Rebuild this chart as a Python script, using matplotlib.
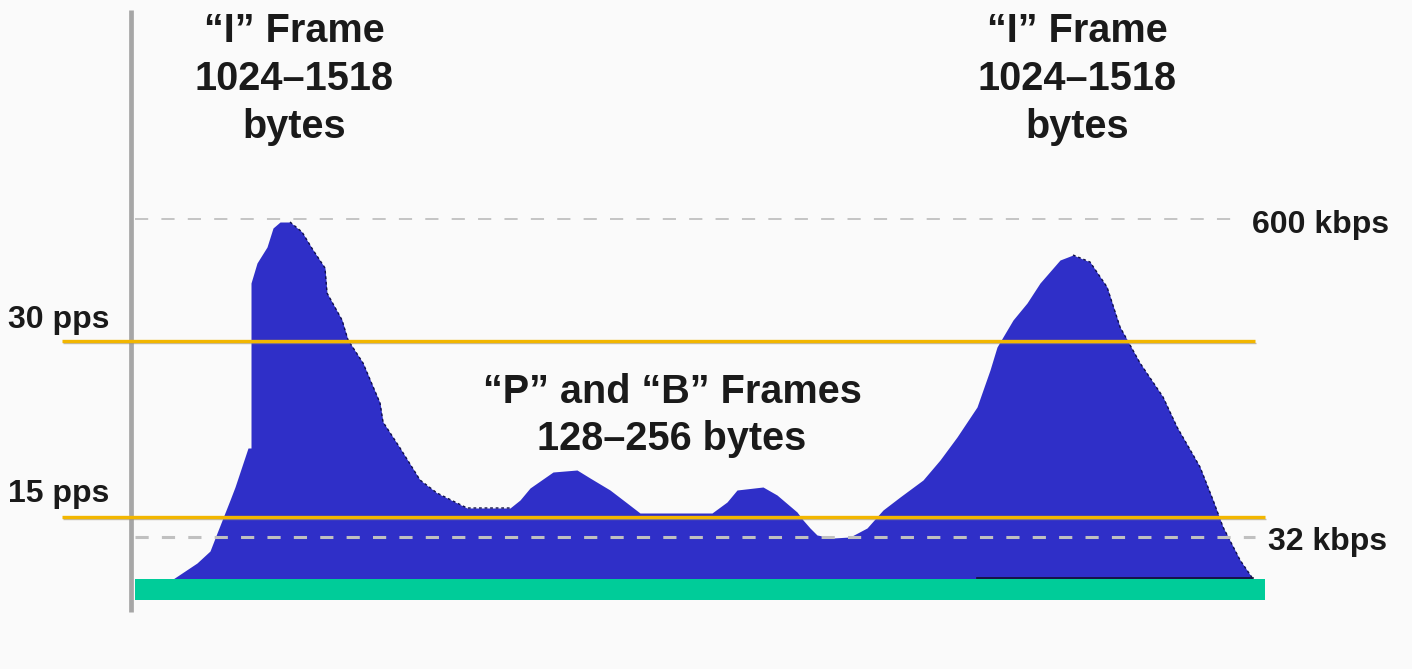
import matplotlib
matplotlib.use("Agg")
import matplotlib.pyplot as plt
import numpy as np

# ---- data (time index, relative bandwidth level; baseline = 0) ----
profile_t = [42, 66, 79, 86, 99, 104, 117, 120, 120, 126, 136, 142, 149, 159,
             171, 182, 194, 196, 211, 217, 232, 249, 252, 269, 289, 306, 336,
             379, 389, 399, 422, 446, 459, 479, 496, 509, 581, 596, 606, 632,
             646, 666, 672, 679, 686, 702, 719, 736, 752, 769, 792, 809, 826,
             846, 859, 866, 882, 896, 909, 929, 942, 959, 976, 989, 1009, 1032,
             1046, 1069, 1082, 1092, 1109, 1122]
profile_level = [0, 16, 28, 46, 79, 92, 131, 131, 296, 316, 332, 351, 357, 357,
                 347, 329, 311, 286, 259, 239, 216, 176, 157, 131, 99, 86, 71,
                 71, 79, 91, 107, 109, 101, 89, 76, 66, 66, 77, 89, 92, 84, 67,
                 59, 51, 44, 41, 42, 51, 69, 82, 99, 119, 142, 172, 209, 232,
                 259, 276, 296, 319, 324, 317, 292, 252, 216, 182, 152, 112, 79,
                 52, 19, 0]

rate_levels = [238, 62]           # 30 pps, 15 pps
rate_labels = ["30 pps", "15 pps"]
bw_levels = [360, 42]             # 600 kbps, 32 kbps
bw_labels = ["600 kbps", "32 kbps"]
i_frame_lines = ["\u201cI\u201d Frame", "1024\u20131518", "bytes"]
pb_lines = ["\u201cP\u201d and \u201cB\u201d Frames", "128\u2013256 bytes"]

# ---- figure ----
plt.rcParams['font.family'] = ['Liberation Sans', 'DejaVu Sans']
plt.rcParams['lines.scale_dashes'] = False
bg = "#FAFAFA"
fig = plt.figure(figsize=(14.12, 6.69), dpi=100, facecolor=bg)
ax = fig.add_axes([0, 0, 1, 1])
ax.set_facecolor(bg)
ax.set_xlim(-131, 1281)
ax.set_ylim(-90, 579)
ax.axis("off")

blue = "#2F2FC8"
ax.fill_between(profile_t, 0, profile_level, color=blue, lw=0, zorder=2)
# dark jagged edge on falling sides
ax.plot(profile_t[13:28], profile_level[13:28], color="#10104A", lw=1.0,
        ls=(0, (2, 2)), zorder=2.5)
ax.plot(profile_t[60:], profile_level[60:], color="#10104A", lw=1.0,
        ls=(0, (2, 2)), zorder=2.5)
ax.plot([846, 1122], [1, 1], color="#101030", lw=1.2, zorder=2.6)

# green base bar
ax.fill_between([4, 1134], -21, 0, color="#00CC99", lw=0, zorder=3)

# vertical axis line
ax.plot([0, 0], [-33, 569], color="#A6A6A6", lw=3.4, solid_capstyle="butt",
        zorder=4)

# dashed bandwidth lines
ax.plot([4, 1104], [bw_levels[0]] * 2, color="#C4C4C4", lw=1.4,
        dashes=(9.5, 9.5), zorder=3.5)
ax.plot([4, 1124], [bw_levels[1]] * 2, color="#C0C0C0", lw=2.2,
        dashes=(9.5, 9.5), zorder=3.5)

# orange rate lines (with faint shadow beneath)
for lvl, xr in zip(rate_levels, (1124, 1134)):
    ax.plot([-68, xr + 1], [lvl - 1.6] * 2, color="#9A9080", lw=1.0,
            alpha=0.6, solid_capstyle="butt", zorder=4.9)
    ax.plot([-69, xr], [lvl] * 2, color="#F2B600", lw=2.4,
            solid_capstyle="butt", zorder=5)

tc = "#1A1A1A"
lab_fs = 23
big_fs = 28.5
ax.text(-123, 251, rate_labels[0], fontsize=lab_fs, fontweight="bold",
        color=tc, ha="left", va="baseline")
ax.text(-123, 77, rate_labels[1], fontsize=lab_fs, fontweight="bold",
        color=tc, ha="left", va="baseline")
ax.text(1121, 346, bw_labels[0], fontsize=lab_fs, fontweight="bold",
        color=tc, ha="left", va="baseline")
ax.text(1137, 29, bw_labels[1], fontsize=lab_fs, fontweight="bold",
        color=tc, ha="left", va="baseline")

for cx in (163, 946):
    for line, by in zip(i_frame_lines, (537, 489, 441)):
        ax.text(cx, by, line, fontsize=big_fs, fontweight="bold", color=tc,
                ha="center", va="baseline")
for line, by in zip(pb_lines, (176, 129)):
    ax.text(541, by, line, fontsize=big_fs, fontweight="bold", color=tc,
            ha="center", va="baseline")

fig.savefig("out.png", dpi=100, facecolor=bg)
